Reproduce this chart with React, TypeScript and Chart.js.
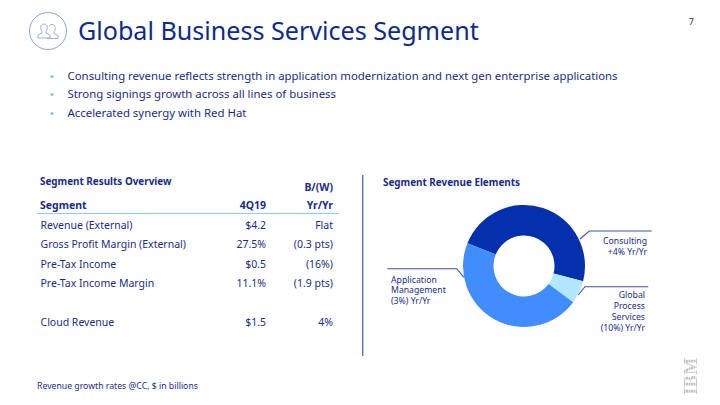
import React, { useEffect, useRef } from "react";
import { Chart, registerables } from "chart.js";

Chart.register(...registerables);

const segmentLabels = ["Consulting", "Global Process Services", "Application Management"];
const segmentShares = [47.9, 6.1, 46.0];
const segmentColors = ["#0530AD", "#B3E6FF", "#418CFF"];

const bullets = [
  "Consulting revenue reflects strength in application modernization and next gen enterprise applications",
  "Strong signings growth across all lines of business",
  "Accelerated synergy with Red Hat",
];
const rowLabels = ["Revenue (External)", "Gross Profit Margin (External)", "Pre-Tax Income", "Pre-Tax Income Margin", "Cloud Revenue"];
const rowQuarter = ["$4.2", "27.5%", "$0.5", "11.1%", "$1.5"];
const rowYoY = ["Flat", "(0.3 pts)", "(16%)", "(1.9 pts)", "4%"];
const rowY = [225, 244, 264, 283, 322];
const bulletY = [76, 94, 113];

const NAVY = "#1A2C86";
const TITLE = "#0F2A8C";
const FONT = '"Noto Sans", sans-serif';

type TProps = { x: number; y: number; s: number; right?: boolean; bold?: boolean; children: React.ReactNode; color?: string; lh?: number };
function T({ x, y, s, right, bold, children, color, lh }: TProps) {
  const st: React.CSSProperties = {
    position: "absolute",
    top: y,
    transform: "translateY(-50%)",
    fontSize: s,
    lineHeight: lh ? `${lh}px` : 1,
    whiteSpace: "nowrap",
    fontWeight: bold ? 700 : 400,
    color: color || NAVY,
    textAlign: right ? "right" : "left",
  };
  if (right) st.right = 720 - x;
  else st.left = x;
  return <div style={st}>{children}</div>;
}

export default function App() {
  const ref = useRef<HTMLCanvasElement | null>(null);
  useEffect(() => {
    document.body.style.margin = "0";
    document.body.style.background = "#fff";
    const chart = new Chart(ref.current!, {
      type: "doughnut",
      data: {
        labels: segmentLabels,
        datasets: [{ data: segmentShares, backgroundColor: segmentColors, borderWidth: 0 }],
      },
      options: {
        animation: false,
        responsive: false,
        rotation: 292,
        radius: 61,
        cutout: "50%",
        plugins: { legend: { display: false }, tooltip: { enabled: false } },
      },
    });
    return () => chart.destroy();
  }, []);

  return (
    <div style={{ position: "relative", width: 720, height: 405, overflow: "hidden", fontFamily: FONT, background: "#fff" }}>
      <svg width={720} height={405} style={{ position: "absolute", left: 0, top: 0 }} fill="none">
        <circle cx={48} cy={31} r={18.5} stroke="#6F8FC8" strokeWidth={0.8} />
        <g stroke="#8FA6D6" strokeWidth={0.9}>
          <path d="M38 38 v-3 l4 -2 v-2 c-2 -2 -2 -7 2 -7 s4 5 2 7 v2 l4 2 v3 z" />
          <path d="M47 38.5 h11 v-3 l-4 -2 v-2 c2 -2 2 -7 -2 -7 c-1.5 0 -2.5 .7 -3 1.6" />
        </g>
        <g stroke="#3F539F" strokeWidth={1.1}>
          <polyline points="580,239 589.3,231 651.7,231" />
          <polyline points="578.3,295 585,286.7 648.3,286.7" />
          <polyline points="387.3,268.7 456.7,268.7 464,277.3" />
        </g>
        <line x1={37} x2={339} y1={213.5} y2={213.5} stroke="#8FCBFF" strokeWidth={1} />
        <line x1={362.7} x2={362.7} y1={175} y2={356} stroke="#5D6FAE" strokeWidth={1.4} />
        {bulletY.map((y) => (
          <circle key={y} cx={52} cy={y + 0.5} r={1.6} fill="#7CC7FF" />
        ))}
      </svg>

      <canvas ref={ref} width={130} height={130} style={{ position: "absolute", left: 459, top: 200.5, width: 130, height: 130 }} />

      <T x={78} y={31} s={25.1} color={TITLE}>Global Business Services Segment</T>
      <T x={694} y={21} s={9} right>7</T>
      {bullets.map((b, i) => (
        <T key={b} x={67.5} y={bulletY[i]} s={11.4}>{b}</T>
      ))}

      <T x={40} y={182} s={9.9} bold>Segment Results Overview</T>
      <T x={333} y={187} s={10.5} bold right>B/(W)</T>
      <T x={40} y={205} s={10.5} bold>Segment</T>
      <T x={266} y={205} s={10.5} bold right>4Q19</T>
      <T x={333} y={205} s={10.5} bold right>Yr/Yr</T>
      {rowLabels.map((r, i) => (
        <React.Fragment key={r}>
          <T x={40.5} y={rowY[i]} s={10.5}>{r}</T>
          <T x={266} y={rowY[i]} s={10.5} right>{rowQuarter[i]}</T>
          <T x={333} y={rowY[i]} s={10.5} right>{rowYoY[i]}</T>
        </React.Fragment>
      ))}
      <T x={37} y={386} s={8.7}>Revenue growth rates @CC, $ in billions</T>

      <T x={383} y={183} s={9.9} bold>Segment Revenue Elements</T>
      <T x={647} y={246.5} s={8.7} lh={11} right>Consulting<br />+4% Yr/Yr</T>
      <T x={391} y={290.5} s={8.7} lh={10.8}>Application<br />Management<br />(3%) Yr/Yr</T>
      <T x={645} y={312} s={8.7} lh={10.9} right>Global<br />Process<br />Services<br />(10%) Yr/Yr</T>

      <div style={{ position: "absolute", left: 691, top: 376, transform: "translate(-50%,-50%) rotate(-90deg)", fontFamily: '"Liberation Serif", serif', fontWeight: 700, fontSize: 18, lineHeight: 1, letterSpacing: 0.5, color: "transparent", background: "repeating-linear-gradient(0deg,#C4C4C4 0 1.5px,#E2E2E2 1.5px 2.5px)", WebkitBackgroundClip: "text", backgroundClip: "text" }}>IBM</div>
    </div>
  );
}
